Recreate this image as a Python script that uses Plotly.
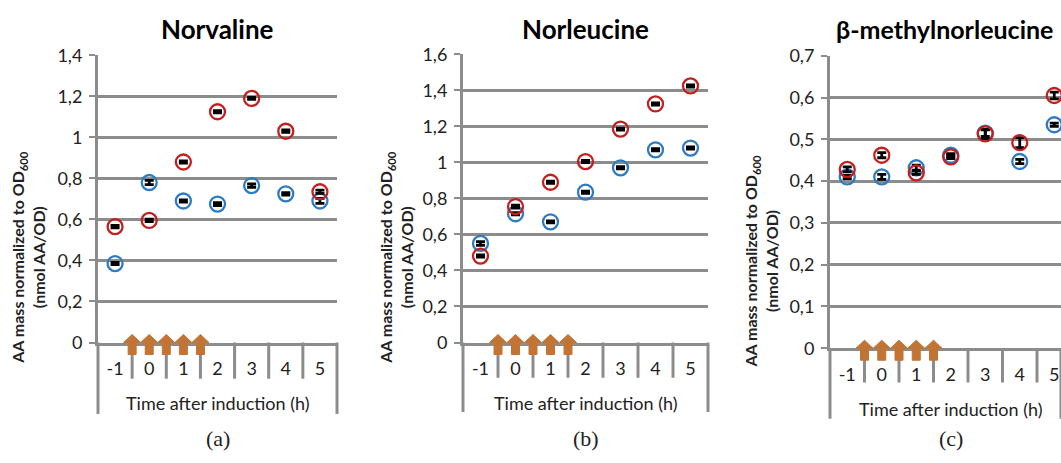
import plotly.graph_objects as go

W, H = 1061, 463

# ---------------- data ----------------
times = [-1, 0, 1, 2, 3, 4, 5]
time_labels = ["-1", "0", "1", "2", "3", "4", "5"]
induction_times = [-0.5, 0, 0.5, 1, 1.5]

titles = ["Norvaline", "Norleucine", "β-methylnorleucine"]
panel_letters = ["(a)", "(b)", "(c)"]

norvaline_red = [0.565, 0.595, 0.88, 1.125, 1.19, 1.03, 0.735]
norvaline_red_err = [0.006, 0.006, 0.005, 0.005, 0.005, 0.006, 0.008]
norvaline_blue = [0.385, 0.78, 0.69, 0.675, 0.765, 0.725, 0.69]
norvaline_blue_err = [0.005, 0.01, 0.005, 0.007, 0.008, 0.006, 0.012]

norleucine_red = [0.48, 0.755, 0.89, 1.005, 1.185, 1.325, 1.425]
norleucine_red_err = [0.006, 0.008, 0.006, 0.006, 0.006, 0.006, 0.006]
norleucine_blue = [0.55, 0.715, 0.67, 0.835, 0.97, 1.07, 1.08]
norleucine_blue_err = [0.01, 0.006, 0.005, 0.006, 0.006, 0.006, 0.006]

bmnl_red = [0.428, 0.462, 0.42, 0.458, 0.513, 0.492, 0.605]
bmnl_red_err = [0.006, 0.006, 0.004, 0.004, 0.011, 0.012, 0.008]
bmnl_blue = [0.41, 0.41, 0.432, 0.462, 0.515, 0.447, 0.535]
bmnl_blue_err = [0.004, 0.006, 0.006, 0.004, 0.008, 0.005, 0.004]

yticks_a = [0, 0.2, 0.4, 0.6, 0.8, 1.0, 1.2, 1.4]
yticklabels_a = ["0", "0,2", "0,4", "0,6", "0,8", "1", "1,2", "1,4"]
yticks_b = [0, 0.2, 0.4, 0.6, 0.8, 1.0, 1.2, 1.4, 1.6]
yticklabels_b = ["0", "0,2", "0,4", "0,6", "0,8", "1", "1,2", "1,4", "1,6"]
yticks_c = [0, 0.1, 0.2, 0.3, 0.4, 0.5, 0.6, 0.7]
yticklabels_c = ["0", "0,1", "0,2", "0,3", "0,4", "0,5", "0,6", "0,7"]

# ---------------- styling ----------------
RED = "#C41E1E"
BLUE = "#2E7BC4"
ARROW = "#C27434"
GRID = "#8C8C8C"
FONT = "Lato"

def fx(p):
    return p / W

def fy(p):
    return 1 - p / H

panels = [
    dict(red=norvaline_red, rerr=norvaline_red_err, blue=norvaline_blue, berr=norvaline_blue_err,
         yt=yticks_a, ytl=yticklabels_a, ymax=1.4,
         xl=98, xr=337, xmax=5.5, y0=347, ytop=45.5, cx=217.5, tcx=217.5, tsize=26,
         ybot=422, divbot=385, xt_y=410, let_y=448, ytitle_x=28, ytitle_y=258),
    dict(red=norleucine_red, rerr=norleucine_red_err, blue=norleucine_blue, berr=norleucine_blue_err,
         yt=yticks_b, ytl=yticklabels_b, ymax=1.6,
         xl=463, xr=708, xmax=5.5, y0=347, ytop=44.5, cx=585.5, tcx=585.5, tsize=26,
         ybot=420, divbot=384, xt_y=410, let_y=448, ytitle_x=396, ytitle_y=258),
    dict(red=bmnl_red, rerr=bmnl_red_err, blue=bmnl_blue, berr=bmnl_blue_err,
         yt=yticks_c, ytl=yticklabels_c, ymax=0.7,
         xl=830, xr=1061, xmax=-1.5 + (1061 - 830) / 34.5, y0=353, ytop=46, cx=950.5, tcx=944, tsize=25,
         ybot=427, divbot=389, xt_y=417, let_y=448, ytitle_x=761, ytitle_y=262),
]

fig = go.Figure()
shapes = []
annotations = []
layout_axes = {}

for i, p in enumerate(panels):
    n = "" if i == 0 else str(i + 1)
    xa, ya = "x" + n, "y" + n
    # series
    for vals, errs, col in ((p["blue"], p["berr"], BLUE), (p["red"], p["rerr"], RED)):
        fig.add_trace(go.Scatter(
            x=times, y=vals, xaxis=xa, yaxis=ya, mode="markers",
            marker=dict(symbol="circle-open", size=15, color=col, line=dict(width=2.3, color=col)),
            error_y=dict(type="data", array=errs, visible=True, color="black", thickness=2.8, width=4.5),
            showlegend=False, hoverinfo="x+y",
        ))
    layout_axes["xaxis" + n] = dict(
        domain=[fx(p["xl"]), fx(p["xr"])], range=[-1.5, p["xmax"]], anchor=ya,
        showgrid=False, zeroline=False, showline=True, linecolor=GRID, linewidth=3,
        tickmode="array", tickvals=times, ticktext=time_labels, ticks="",
        tickfont=dict(family=FONT, size=18, color="#222"), ticklabelstandoff=8,
        fixedrange=True,
    )
    layout_axes["yaxis" + n] = dict(
        domain=[fy(p["y0"]), fy(p["ytop"])], range=[0, p["ymax"]], anchor=xa,
        showgrid=True, gridcolor=GRID, gridwidth=3, zeroline=False,
        showline=True, linecolor=GRID, linewidth=3,
        tickmode="array", tickvals=p["yt"], ticktext=p["ytl"],
        ticks="outside", ticklen=6, tickcolor=GRID, tickwidth=2,
        tickfont=dict(family=FONT, size=18, color="#222"), ticklabelstandoff=3,
        fixedrange=True,
    )
    # frame of the category area below the axis
    for xpx in (p["xl"], p["xr"]):
        shapes.append(dict(type="line", xref="paper", yref="paper",
                           x0=fx(xpx), x1=fx(xpx), y0=fy(p["y0"]), y1=fy(p["ybot"]),
                           line=dict(color=GRID, width=3), layer="below"))
    for t in times[:-1]:
        shapes.append(dict(type="line", xref=xa, yref="paper",
                           x0=t + 0.5, x1=t + 0.5, y0=fy(p["y0"]), y1=fy(p["divbot"]),
                           line=dict(color=GRID, width=3), layer="below"))
    # induction arrows
    for t in induction_times:
        shapes.append(dict(
            type="path", xref=xa, yref="paper", xsizemode="pixel", ysizemode="pixel",
            xanchor=t, yanchor=fy(p["y0"]),
            path="M 0 8 L 8.5 0 L 4 0 L 4 -12 L -4 -12 L -4 0 L -8.5 0 Z",
            fillcolor=ARROW, line=dict(color=ARROW, width=1), layer="above"))
    cx = p["cx"]
    annotations.append(dict(text="<b>%s</b>" % titles[i], xref="paper", yref="paper",
                            x=fx(p["tcx"]), y=fy(18), xanchor="center", yanchor="middle",
                            showarrow=False, font=dict(family=FONT, size=p["tsize"], color="black")))
    annotations.append(dict(text="Time after induction (h)", xref="paper", yref="paper",
                            x=fx(cx), y=fy(p["xt_y"]), xanchor="center", yanchor="middle",
                            showarrow=False, font=dict(family=FONT, size=18, color="#222")))
    annotations.append(dict(text=panel_letters[i], xref="paper", yref="paper",
                            x=fx(cx), y=fy(p["let_y"]), xanchor="center", yanchor="middle",
                            showarrow=False, font=dict(family="Liberation Serif", size=22, color="#222")))
    annotations.append(dict(text="<b>AA mass normalized to OD<sub>600</sub><br>(nmol AA/OD)</b>",
                            xref="paper", yref="paper", x=fx(p["ytitle_x"]), y=fy(p["ytitle_y"]),
                            xanchor="center", yanchor="middle", textangle=-90,
                            showarrow=False, font=dict(family=FONT, size=16, color="#222")))

fig.update_layout(
    width=W, height=H, margin=dict(l=0, r=0, t=0, b=0),
    paper_bgcolor="white", plot_bgcolor="white",
    shapes=shapes, annotations=annotations, showlegend=False,
    **layout_axes,
)

fig.write_html("out.html", config={"displayModeBar": False})
